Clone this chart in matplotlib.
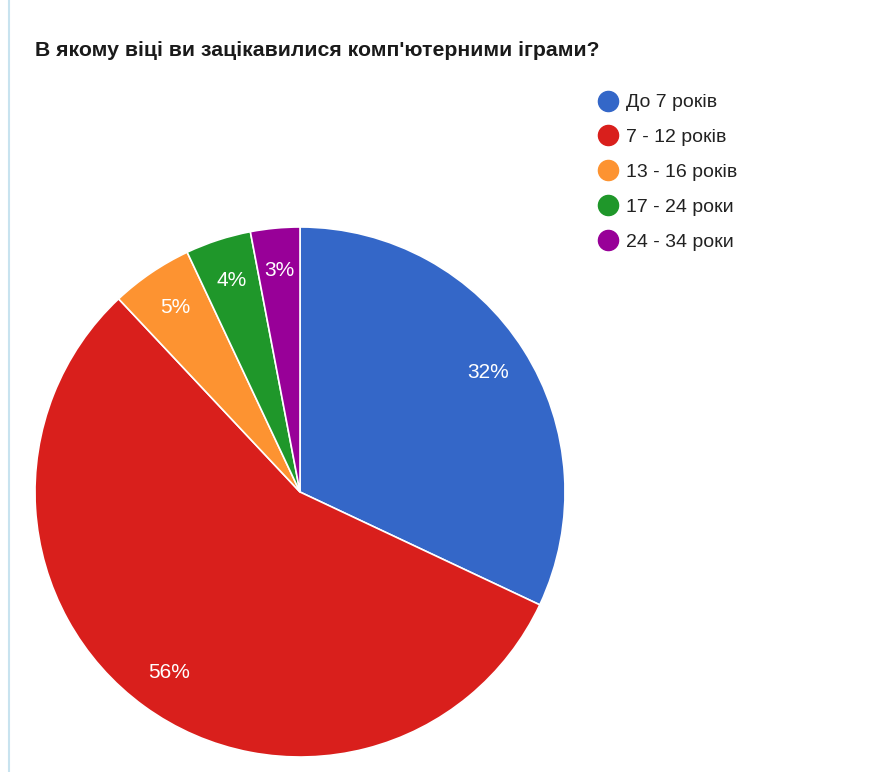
import matplotlib
matplotlib.use("Agg")
import matplotlib.pyplot as plt
from matplotlib.lines import Line2D

plt.rcParams['font.family'] = ['Liberation Sans', 'DejaVu Sans']

title = "В якому віці ви зацікавилися комп'ютерними іграми?"
categories = ["До 7 років", "7 - 12 років", "13 - 16 років", "17 - 24 роки", "24 - 34 роки"]
shares = [32, 56, 5, 4, 3]
colors = ["#3467c8", "#d91f1c", "#fd9331", "#1f972a", "#980098"]

W, H = 883, 772
fig = plt.figure(figsize=(W / 100, H / 100), dpi=100)
fig.patch.set_facecolor("white")

# pie area: centre (300, 492) px, radius 265 px
cx, cy, r = 300, 492, 265
ax = fig.add_axes([(cx - r) / W, (H - cy - r) / H, 2 * r / W, 2 * r / H])
wedges, texts, autotexts = ax.pie(
    shares, colors=colors, startangle=90, counterclock=False,
    autopct=lambda p: f"{round(p)}%", pctdistance=0.84,
    wedgeprops=dict(edgecolor="white", linewidth=1.2),
    textprops=dict(color="white", fontsize=15),
)
ax.set_xlim(-1, 1)
ax.set_ylim(-1, 1)
ax.set_aspect("equal")
ax.axis("off")

fig.text(35 / W, 1 - 51 / H, title, fontsize=15.3, fontweight="bold",
         color="#1a1a1a", ha="left", va="center")

handles = [Line2D([], [], linestyle="none", marker="o", markersize=14.5,
                  markerfacecolor=c, markeredgecolor=c) for c in colors]
fig.legend(handles, categories, loc="upper left",
           bbox_to_anchor=(590 / W, 1 - 86 / H), frameon=False,
           fontsize=14, labelspacing=0.89, handlelength=1.0,
           handletextpad=0.45, borderaxespad=0, labelcolor="#222222")

# thin light-blue rule on the left edge
fig.add_artist(Line2D([8.5 / W, 8.5 / W], [0, 1], transform=fig.transFigure,
                      color="#c8e3ef", linewidth=1.5))

fig.savefig("out.png", dpi=100)
